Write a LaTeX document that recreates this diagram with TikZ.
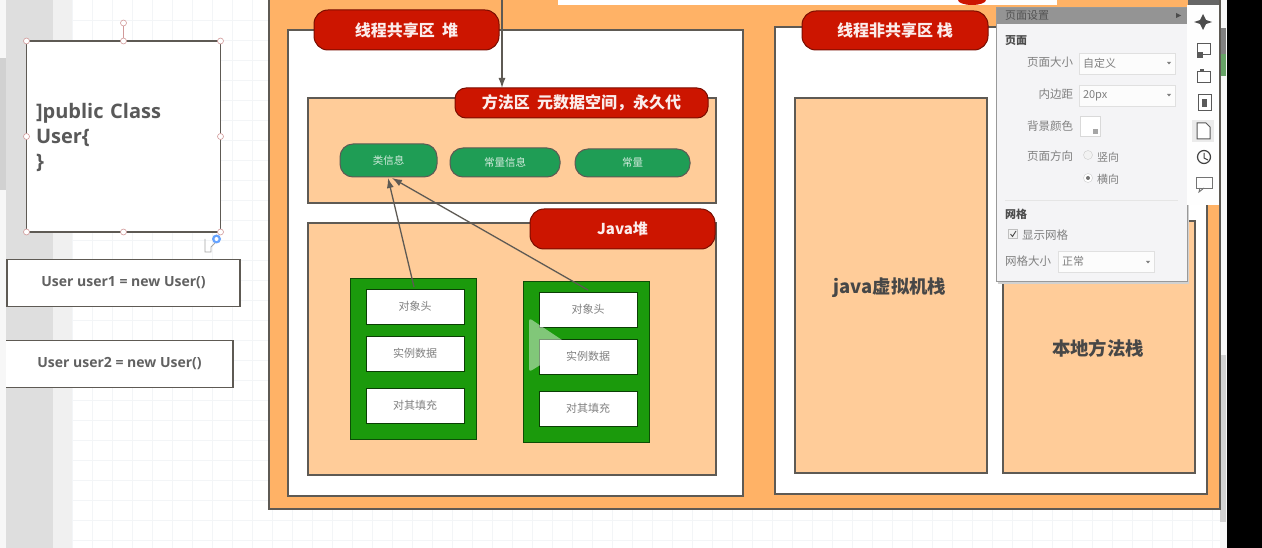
\documentclass[tikz,border=0pt]{standalone}
\usepackage{fontspec}
\setmainfont{Open Sans}
\newfontfamily\cjk{Noto Sans CJK SC}
\definecolor{orangeout}{HTML}{FFB266}
\definecolor{peach}{HTML}{FFCC99}
\definecolor{redbox}{HTML}{CC1500}
\definecolor{greenpill}{HTML}{1F9D55}
\definecolor{greenbox}{HTML}{1B9A0C}
\definecolor{edge}{HTML}{5E5A54}
\definecolor{panelbg}{HTML}{F4F4F6}
\definecolor{paneltxt}{HTML}{808080}
\definecolor{gridc}{HTML}{F3F5F7}
\usetikzlibrary{arrows.meta}
\tikzset{
  x=1pt,y=-1pt,
  box/.style={draw=edge,line width=1.2pt,fill=#1,anchor=north west,inner sep=0pt,outer sep=0pt},
  redpill/.style={draw=black!40!redbox,line width=1pt,fill=redbox,rounded corners=14pt,text=white!92!redbox,font=\cjk\bfseries\fontsize{16}{18}\selectfont,inner sep=0pt,outer sep=0pt,anchor=north west,align=center},
  greenp/.style={draw=edge,line width=1pt,fill=greenpill,rounded corners=13pt,text=white!80!greenpill,font=\cjk\fontsize{10.5}{12}\selectfont,inner sep=0pt,outer sep=0pt,anchor=north west},
  slot/.style={draw=black!60!greenbox,line width=.6pt,fill=white,minimum width=98pt,minimum height=35pt,text=black!50,font=\cjk\fontsize{11}{13}\selectfont,inner sep=0pt,outer sep=0pt,anchor=north west},
  gbox/.style={draw=black!50!greenbox,line width=.8pt,fill=greenbox,minimum width=126pt,minimum height=161pt,inner sep=0pt,outer sep=0pt,anchor=north west},
  codebox/.style={draw=edge,line width=1.2pt,fill=white,text=black!62,font=\bfseries\fontsize{14}{16}\selectfont,inner sep=0pt,outer sep=0pt,anchor=north west},
  handle/.style={circle,draw=black!45!red!40,fill=white,line width=.6pt,minimum size=6pt,inner sep=0pt},
  arrow/.style={draw=edge,line width=1.3pt,-{Latex[length=10pt,width=7pt]}},
  ptxt/.style={text=paneltxt,font=\cjk\fontsize{11.5}{13}\selectfont,inner sep=0pt,outer sep=0pt},
  pfield/.style={draw=black!12,fill=white!70!panelbg,line width=.6pt,text=paneltxt,font=\cjk\fontsize{11}{13}\selectfont,inner sep=0pt,outer sep=0pt,anchor=north west,text width=96pt},
  big/.style={font=\cjk\bfseries\fontsize{18.4}{22}\selectfont,text=black!72,inner sep=0pt,outer sep=0pt},
}
\begin{document}
\begin{tikzpicture}
\useasboundingbox (0,0) rectangle (1262,548);
\fill[white] (0,0) rectangle (1262,548);
% canvas grid
\foreach \gx in {72,92,...,1220} {\draw[gridc,line width=.5pt] (\gx,0) -- (\gx,548);}
\foreach \gy in {20,40,...,540} {\draw[gridc,line width=.5pt] (72,\gy) -- (1220,\gy);}
% sidebars
\fill[black!6] (53,0) rectangle (72,548);
\fill[black!3] (0,0) rectangle (6,548);
\fill[black!13] (6,0) rectangle (53,548);
\fill[black!18] (0,58) rectangle (6,190);
\fill[black] (1227,0) rectangle (1262,548);
\fill[black!3] (1220,0) rectangle (1227,548);
\fill[black!50] (1220,28) rectangle (1226,54);
\fill[green!40!black!60] (1220,54) rectangle (1226,76);
\fill[black!18] (1220,355) rectangle (1226,522);
% outer orange panel
\node[box=orangeout,minimum width=951pt,minimum height=512pt] (outer) at (269,-3) {};
% white top strip
\fill[white] (558,0) rectangle (1057,5);
\fill[redbox] (986,0) arc (0:-180:14pt and 5pt) -- cycle;
% left and right white regions
\node[box=white,minimum width=455pt,minimum height=466pt] (shared) at (288,30) {};
\node[box=white,minimum width=432pt,minimum height=467pt] (private) at (775,27) {};
% method area + heap
\node[box=peach,minimum width=408pt,minimum height=105pt] (method) at (308,98) {};
\node[box=peach,minimum width=408pt,minimum height=252pt] (heap) at (308,223) {};
% stack boxes
\node[box=peach,minimum width=192pt,minimum height=375pt] (jvm) at (795,98) {};
\node[big] (jvmt) at (890,287.5) {java虚拟机栈};
\node[box=peach,minimum width=192pt,minimum height=252pt] (native) at (1003,221) {};
\node[big] (nativet) at (1098,348) {本地方法栈};
% red pills
\node[redpill,minimum width=185pt,minimum height=40pt] (r1) at (314,10) {线程共享区\ \ 堆};
\node[redpill,minimum width=186pt,minimum height=39pt] (r2) at (802,11) {线程非共享区 栈};
\node[redpill,minimum width=253pt,minimum height=30pt,rounded corners=11pt] (r3) at (455,88) {方法区\ \ 元数据空间，永久代};
\node[redpill,minimum width=185pt,minimum height=40pt,font=\cjk\bfseries\fontsize{15}{17}\selectfont] (r4) at (530,209) {Java堆};
% green pills
\node[greenp,minimum width=97pt,minimum height=33pt] (g1) at (340,144) {类信息};
\node[greenp,minimum width=110pt,minimum height=29pt] (g2) at (450,148) {常量信息};
\node[greenp,minimum width=115pt,minimum height=28pt] (g3) at (575,149) {常量};
% object boxes
\node[gbox] (o1) at (350,278) {};
\node[slot] (a1) at (366,289) {对象头};
\node[slot] (a2) at (366,336) {实例数据};
\node[slot] (a3) at (366,388) {对其填充};
\node[gbox] (o2) at (523,281) {};
\node[slot] (b1) at (539,292) {对象头};
\node[slot] (b2) at (539,339) {实例数据};
\node[slot] (b3) at (539,391) {对其填充};
% connectors
\coordinate (topin) at (502,0);
\coordinate (a1t) at (414,287);
\coordinate (b1t) at (588,290);
\coordinate (g1l) at (388,178);
\coordinate (g1r) at (392,178);
\draw[arrow] (topin) -- (topin |- r3.north);
\draw[arrow] (a1t) -- (g1l);
\draw[arrow] (b1t) -- (g1r);
% play icon
\fill[white,opacity=.45,rounded corners=3pt] (529,318) -- (571,346) -- (529,372) -- cycle;
% left code boxes
\node[codebox,minimum width=194pt,minimum height=191pt] (cls) at (26.5,41) {};
\node[draw=none,text=black!65,inner sep=0pt,outer sep=0pt,anchor=west,text width=180pt,font=\bfseries\fontsize{20}{25}\selectfont,align=left] (clst) at (36,137) {]public Class\\User\{\\\}};
\node[codebox,minimum width=233pt,minimum height=47pt] (u1) at (7,259.5) {User user1 = new User()};
\node[codebox,draw=none,minimum width=227pt,minimum height=47pt] (u2) at (6,340.5) {User user2 = new User()};
\draw[edge,line width=1.2pt] (u2.north west) -- (u2.north east) -- (u2.south east) -- (u2.south west);
% selection handles
\node[handle] (h0) at (123.5,23) {};
\coordinate (h2c) at (123.5,41);
\draw[draw=black!45!red!40,line width=.6pt] (h0) -- (h2c);
\foreach \hx/\hy [count=\hi] in {26.5/41,123.5/41,220.5/41,26.5/136.5,220.5/136.5,26.5/232,123.5/232,220.5/232}
  \node[handle] (h\hi) at (\hx,\hy) {};
% cursor
\fill[blue!60!cyan!60] (216.5,239) circle (4.5pt);
\fill[white] (216.5,239) circle (2pt);
\draw[black!35,line width=.8pt] (205,239) -- (205,252) -- (211,252) -- (211,247) -- (215,243);
% settings panel
\fill[black!18] (998,8) rectangle (1189,284);
\fill[panelbg] (996,7) rectangle (1187,281);
\fill[black!42] (996,7) rectangle (1187,24);
\draw[black!40,line width=.6pt] (996,7) rectangle (1187,281);
\node[ptxt,anchor=west,text=black!68,font=\cjk\fontsize{11}{13}\selectfont] (ttl) at (1005,15.5) {页面设置};
\fill[black!70] (1176,13) -- (1181,15.5) -- (1176,18) -- cycle;
\node[ptxt,anchor=west,text=black!70,font=\cjk\bfseries\fontsize{11}{13}\selectfont] (p1) at (1005,41) {页面};
\node[ptxt,anchor=east] (p2) at (1073,62) {页面大小};
\node[pfield,minimum height=21pt] (f1) at (1079,53) {\hspace{4pt}自定义};
\node[ptxt,anchor=east] (p3) at (1073,94) {内边距};
\node[pfield,minimum height=21pt] (f2) at (1079,85) {\hspace{4pt}20px};
\node[ptxt,anchor=east] (p4) at (1073,126) {背景颜色};
\node[draw=black!15,fill=white,line width=.6pt,minimum size=20pt,inner sep=0pt,anchor=north west] (sw) at (1080,116) {};
\fill[black!35] (1093,129) rectangle (1098,134);
\node[ptxt,anchor=east] (p5) at (1073,156) {页面方向};
\node[circle,draw=black!20,fill=black!5,minimum size=9pt,inner sep=0pt] (ra) at (1088,155) {};
\node[ptxt,anchor=west,font=\cjk\fontsize{11}{13}\selectfont] (p6) at (1097,157) {竖向};
\node[circle,draw=black!20,fill=white,minimum size=9pt,inner sep=0pt] (rb) at (1088,178) {};
\fill[black!55] (rb) circle (2pt);
\node[ptxt,anchor=west,font=\cjk\fontsize{11}{13}\selectfont] (p7) at (1097,179) {横向};
\draw[black!10,line width=.6pt] (1005,200) -- (1178,200);
\node[ptxt,anchor=west,text=black!70,font=\cjk\bfseries\fontsize{11}{13}\selectfont] (p8) at (1005,214) {网格};
\node[draw=black!25,fill=black!5,line width=.6pt,minimum size=9pt,inner sep=0pt] (cb) at (1013,234) {};
\draw[black!70,line width=.9pt] (1010.5,234) -- (1012.5,236.5) -- (1016,231);
\node[ptxt,anchor=west] (p9) at (1022,235) {显示网格};
\node[ptxt,anchor=west] (p10) at (1005,261) {网格大小};
\node[pfield,minimum height=21pt] (f3) at (1058,251) {\hspace{4pt}正常};
\fill[black!50] (1167,62) -- (1171,62) -- (1169,64.5) -- cycle;
\fill[black!50] (1167,94) -- (1171,94) -- (1169,96.5) -- cycle;
\fill[black!50] (1146,261) -- (1150,261) -- (1148,263.5) -- cycle;
% right toolbar
\fill[white!90!panelbg] (1187,5) rectangle (1219,205);
\fill[black!60] (1188,0) rectangle (1219,5);
\fill[black!70] (1203,14) -- (1206,20) -- (1212,22) -- (1206,24) -- (1203,30) -- (1200,24) -- (1194,22) -- (1200,20) -- cycle;
\draw[black!65,line width=1pt] (1197,44) rectangle (1210,55);
\fill[black!65] (1197,52) rectangle (1203,58);
\draw[black!65,line width=1pt] (1197,72) rectangle (1210,83);
\fill[black!65] (1200,69) rectangle (1204,72);
\draw[black!65,line width=1pt] (1198,95) rectangle (1211,111);
\fill[black!65] (1202,99) rectangle (1207,107);
\fill[black!8] (1192,120) rectangle (1214,142);
\draw[black!65,line width=1pt,fill=white] (1197,123) -- (1206,123) -- (1210,127) -- (1210,139) -- (1197,139) -- cycle;
\draw[black!75,line width=1.2pt] (1204,157) circle (6.5pt);
\draw[black!75,line width=1pt] (1204,153) -- (1204,158) -- (1208,160);
\draw[black!55,line width=.9pt] (1196,177) rectangle (1212,188);
\draw[black!55,line width=.9pt] (1200,188) -- (1199,192) -- (1204,188);
\end{tikzpicture}
\end{document}
